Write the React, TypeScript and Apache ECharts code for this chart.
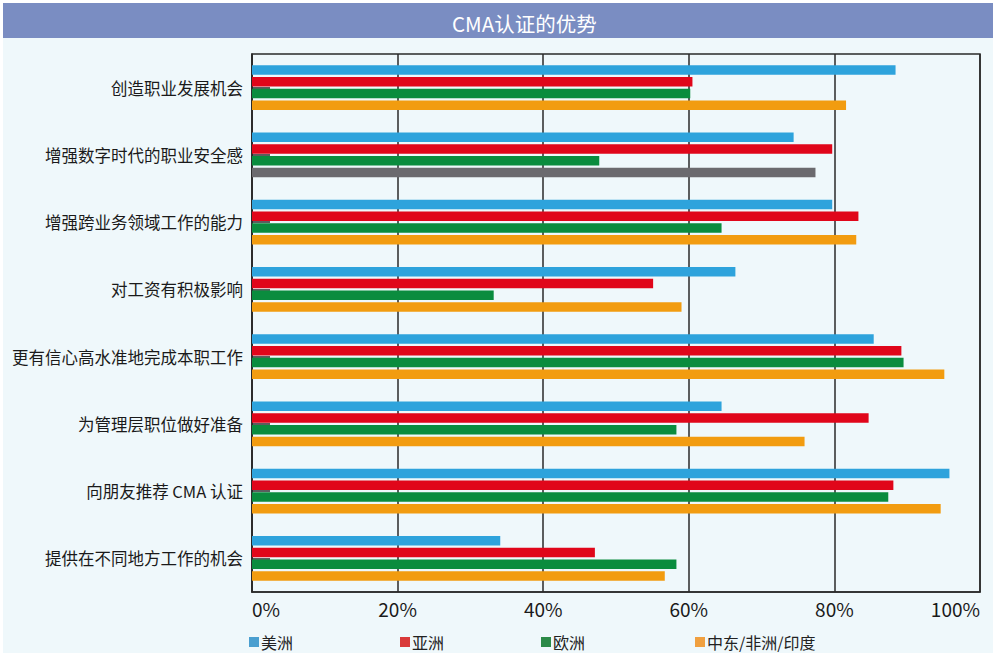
import React, { useEffect, useRef } from "react";
import * as echarts from "echarts";

const titleText = "CMA认证的优势";
const categories = [
  "创造职业发展机会",
  "增强数字时代的职业安全感",
  "增强跨业务领域工作的能力",
  "对工资有积极影响",
  "更有信心高水准地完成本职工作",
  "为管理层职位做好准备",
  "向朋友推荐 CMA 认证",
  "提供在不同地方工作的机会",
];
const seriesNames = ["美洲", "亚洲", "欧洲", "中东/非洲/印度"];
const americas = [88.4, 74.4, 79.7, 66.4, 85.4, 64.5, 95.8, 34.1];
const asia = [60.5, 79.7, 83.3, 55.1, 89.2, 84.7, 88.1, 47.1];
const europe = [60.2, 47.7, 64.5, 33.2, 89.5, 58.3, 87.4, 58.3];
const meaIndia = [81.6, 77.4, 83.0, 59.0, 95.1, 75.9, 94.6, 56.7];
const greyIndex = 1; // the second category's 4th bar is drawn grey in the source
const xTicks = [0, 20, 40, 60, 80, 100];

const colors = ["#2ea3dc", "#e0061a", "#0a8c3e", "#f29c10"];
const legendColors = ["#4a9fd0", "#d93a3a", "#2b8a48", "#f0a040"];
const greyColor = "#6b6a6e";
const FONT = "'Noto Sans CJK SC', 'Noto Sans', sans-serif";

export default function App() {
  const ref = useRef<HTMLDivElement>(null);
  useEffect(() => {
    document.body.style.margin = "0";
    const chart = echarts.init(ref.current!, null, { renderer: "svg" });
    const allData = [americas, asia, europe, meaIndia];
    const legendLefts = [249, 400, 541, 695];
    chart.setOption({
      animation: false,
      backgroundColor: "#ffffff",
      textStyle: { fontFamily: FONT },
      graphic: [
        { type: "rect", z: -10, shape: { x: 3, y: 38, width: 990, height: 615 }, style: { fill: "#eff8fb" } },
        { type: "rect", z: -10, shape: { x: 3, y: 3, width: 990, height: 35 }, style: { fill: "#7a8dc2" } },
      ],
      title: {
        text: titleText,
        left: 447,
        top: 7,
        textStyle: { color: "#ffffff", fontSize: 20.5, fontWeight: "normal", fontFamily: FONT, lineHeight: 22 },
      },
      legend: seriesNames.map((n, i) => ({
        data: [{ name: n, itemStyle: { color: legendColors[i] } }],
        left: legendLefts[i],
        top: 633,
        padding: 0,
        itemWidth: 10,
        itemHeight: 10,
        itemGap: 0,
        icon: "rect",
        textStyle: { fontSize: 16, lineHeight: 18, color: "#222", fontFamily: FONT, padding: [0, 0, 0, -3] },
      })),
      grid: {
        left: 252,
        right: 13,
        top: 54,
        bottom: 61,
        show: true,
        borderColor: "#2a2a2a",
        borderWidth: 1.5,
        backgroundColor: "transparent",
      },
      xAxis: {
        type: "value",
        min: xTicks[0],
        max: xTicks[xTicks.length - 1],
        interval: 20,
        axisLine: { show: true, lineStyle: { color: "#2a2a2a", width: 1.5 } },
        axisTick: { show: false },
        splitLine: { show: true, lineStyle: { color: "#2a2a2a", width: 1.5 } },
        axisLabel: {
          formatter: "{value}%",
          fontSize: 19,
          color: "#1a1a1a",
          margin: 7,
          fontFamily: FONT,
          alignMinLabel: "left",
          alignMaxLabel: "right",
        },
      },
      yAxis: {
        type: "category",
        data: categories,
        inverse: true,
        axisLine: { show: true, lineStyle: { color: "#2a2a2a", width: 1.5 } },
        axisTick: { show: true, inside: true, alignWithLabel: true, length: 18, lineStyle: { color: "#2a2a2a", width: 1.5 } },
        axisLabel: { fontSize: 16.5, color: "#1a1a1a", margin: 9, fontFamily: FONT },
        splitLine: { show: false },
      },
      series: seriesNames.map((n, i) => ({
        name: n,
        type: "bar",
        barWidth: 9.5,
        barGap: "23%",
        itemStyle: { color: colors[i] },
        data: allData[i].map((v, j) =>
          i === 3 && j === greyIndex ? { value: v, itemStyle: { color: greyColor } } : v
        ),
      })),
    });
    return () => chart.dispose();
  }, []);
  return <div ref={ref} style={{ width: 993, height: 653 }} />;
}
